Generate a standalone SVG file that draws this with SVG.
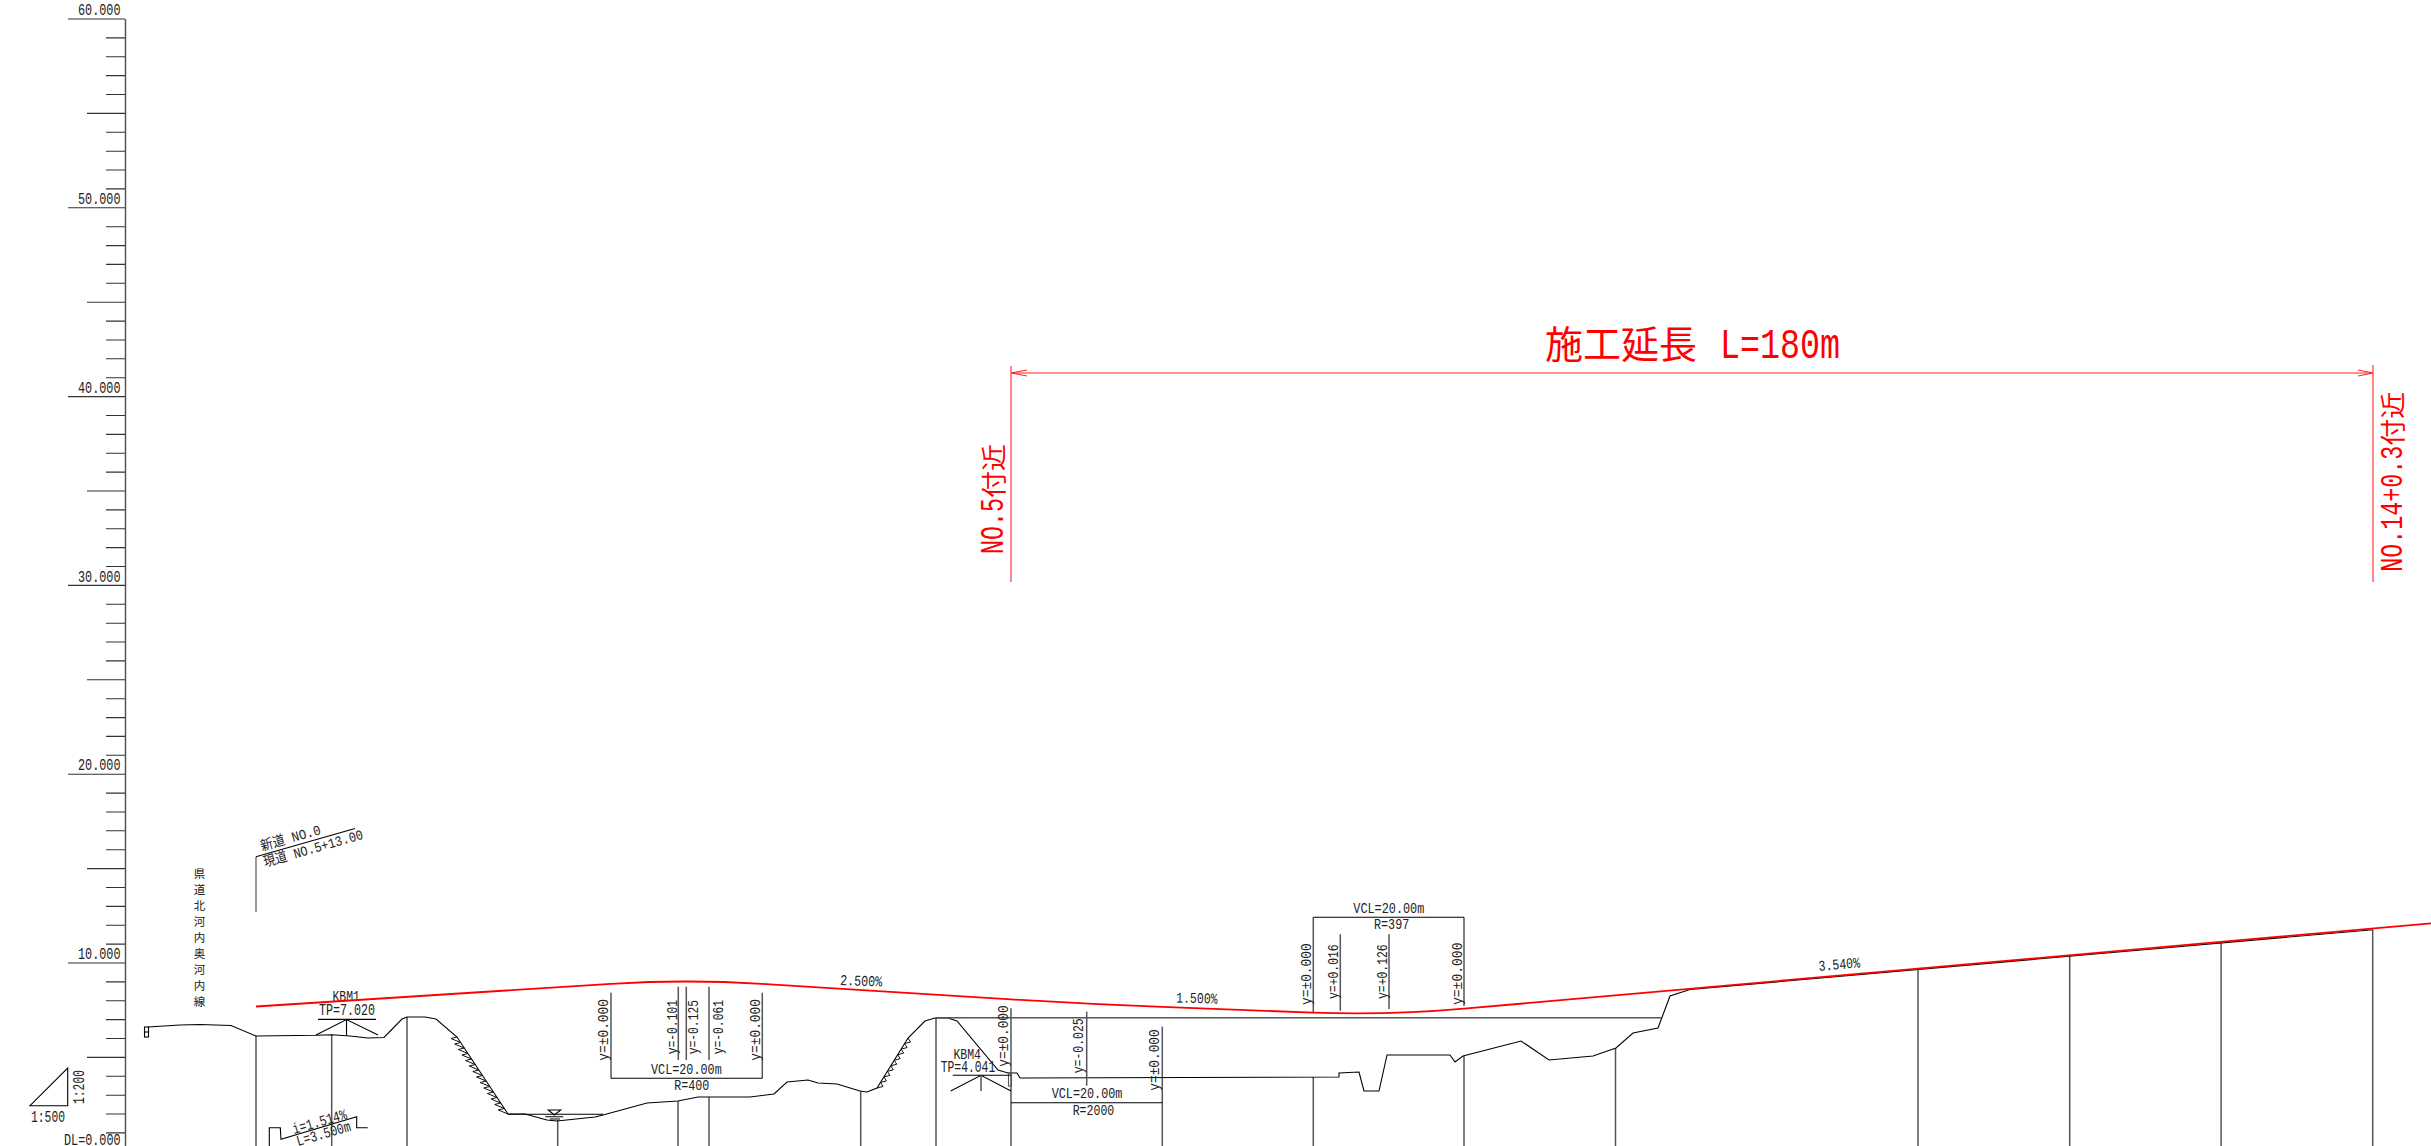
<svg xmlns="http://www.w3.org/2000/svg" width="2431" height="1146" viewBox="0 0 2431 1146">
<style>
.t{font-family:"Liberation Mono","Noto Sans CJK JP",monospace;fill:#222;font-size:15px}
.s{font-size:16px}
.j{font-family:"Noto Sans CJK JP",sans-serif;fill:#222;font-size:11.5px;letter-spacing:4.5px;writing-mode:vertical-rl}
.r{font-family:"Liberation Mono","Noto Sans CJK JP",monospace;fill:#f00}
.l{fill:none;stroke:#000;stroke-width:1.1}
.h{fill:none;stroke:#111;stroke-width:1}
.v{fill:none;stroke:#555;stroke-width:1.5}
</style>
<rect width="2431" height="1146" fill="#fff"/>
<g id="level-scale">
<path class="v" d="M125.5 19V1146"/>
<path class="l" style="stroke:#333" d="M68 19H125M106 37.9H125M106 56.8H125M106 75.6H125M106 94.5H125M87 113.4H125M106 132.3H125M106 151.2H125M106 170H125M106 188.9H125M68 207.8H125M106 226.7H125M106 245.6H125M106 264.4H125M106 283.3H125M87 302.2H125M106 321.1H125M106 340H125M106 358.8H125M106 377.7H125M68 396.6H125M106 415.5H125M106 434.4H125M106 453.2H125M106 472.1H125M87 491H125M106 509.9H125M106 528.8H125M106 547.6H125M106 566.5H125M68 585.4H125M106 604.3H125M106 623.2H125M106 642H125M106 660.9H125M87 679.8H125M106 698.7H125M106 717.6H125M106 736.4H125M106 755.3H125M68 774.2H125M106 793.1H125M106 812H125M106 830.8H125M106 849.7H125M87 868.6H125M106 887.5H125M106 906.4H125M106 925.2H125M106 944.1H125M68 963H125M106 981.9H125M106 1000.8H125M106 1019.6H125M106 1038.5H125M87 1057.4H125M106 1076.3H125M106 1095.2H125M106 1114H125M106 1132.9H125"/>
<text class="t s" x="78" y="15" textLength="42.5" lengthAdjust="spacingAndGlyphs">60.000</text>
<text class="t s" x="78" y="204" textLength="42.5" lengthAdjust="spacingAndGlyphs">50.000</text>
<text class="t s" x="78" y="393" textLength="42.5" lengthAdjust="spacingAndGlyphs">40.000</text>
<text class="t s" x="78" y="582" textLength="42.5" lengthAdjust="spacingAndGlyphs">30.000</text>
<text class="t s" x="78" y="770" textLength="42.5" lengthAdjust="spacingAndGlyphs">20.000</text>
<text class="t s" x="78" y="959" textLength="42.5" lengthAdjust="spacingAndGlyphs">10.000</text>
<text class="t s" x="64" y="1145" textLength="56.5" lengthAdjust="spacingAndGlyphs">DL=0.000</text>
<path class="l" d="M30 1105.7H67.7V1068Z"/>
<text class="t s" x="31" y="1122" textLength="34" lengthAdjust="spacingAndGlyphs">1:500</text>
<text class="t s" transform="translate(84 1104) rotate(-90)" textLength="34" lengthAdjust="spacingAndGlyphs">1:200</text>
</g>
<g id="road-name">
<text class="j" x="199.5" y="868">県道北河内奥河内線</text>
<path class="v" style="stroke-width:1.2" d="M256 912V856.7"/>
<path class="l" d="M256 856.7L355 828.5"/>
<text class="t" style="font-size:14px" transform="translate(262 851) rotate(-16)" textLength="62" lengthAdjust="spacingAndGlyphs">新道 NO.0</text>
<text class="t" style="font-size:14px" transform="translate(265 867) rotate(-16)" textLength="103" lengthAdjust="spacingAndGlyphs">現道 NO.5+13.00</text>
</g>
<g id="stations">
<path class="v" d="M256 1036V1146M331.7 1034.5V1146M407 1017V1146M557.7 1120V1146M678 1101V1146M709 1097V1146M860.7 1091V1146M936 1018V1146M1011 1008.3V1146M1162.3 1026.7V1146M1313.3 917.3V1013M1313.3 1077V1146M1464 917.3V1006M1464 1056V1146M1615.5 1048V1146M1918 969V1146M2069.7 956V1146M2221.1 943V1146M2372.7 930V1146"/>
</g>
<g id="ground">
<path class="l" d="M148 1027L180 1025L200 1024.5L231 1025.5L256 1036L316 1035.3L332 1034.7L350 1036L368 1038L384 1037.5L402 1019L407 1017L425 1017L436 1019L457 1037L508 1114L525 1114L547 1120L557 1121L595 1117L603 1115L647 1103L678 1101L698 1097L750 1097L774 1094L787 1082L808 1080L818 1083L837 1084L860 1091L867 1092L877 1088L908 1038L925 1021L935 1018L948 1018L957 1021L998 1070L1008 1073L1017 1073L1020 1078L1339 1077L1339 1073L1359 1072L1364 1091L1379 1091L1387 1055L1450 1055L1455 1062L1463 1056L1521 1041L1549 1060L1593 1056L1616 1048L1633 1033L1658 1028L1670 996L1690 989.5L2373 929.7"/>
<path class="l" d="M508 1114.3H603"/>
<path class="v" d="M936 1017.7H1661"/>
<path class="h" d="M457 1037l-6 1.5 9.64 4-6 1.5 9.64 4-6 1.5 9.64 4-6 1.5 9.64 4-6 1.5 9.64 4-6 1.5 9.64 4-6 1.5 9.64 4-6 1.5 9.64 4-6 1.5 9.64 4-6 1.5 9.64 4-6 1.5 9.64 4-6 1.5 9.64 4-6 1.5 9.64 4-6 1.5 9.64 4"/>
<path class="h" d="M877 1088l6-1.5-2.56-4.06 6-1.5-2.56-4.06 6-1.5-2.56-4.06 6-1.5-2.56-4.06 6-1.5-2.56-4.06 6-1.5-2.56-4.06 6-1.5-2.56-4.06 6-1.5-2.56-4.06 6-1.5-2.56-4.06"/>
<rect class="l" x="144.5" y="1027" width="4" height="10"/>
<path class="l" d="M144.5 1032H148.5"/>
<rect class="l" style="stroke:#555" x="1008.5" y="1073" width="3" height="13"/>
</g>
<g id="water-level">
<path class="l" d="M548.3 1110H560.7L554.3 1115ZM545.3 1116.7H563.3M550 1119H560"/>
</g>
<g id="benchmark-kbm1">
<text class="t" x="332.5" y="1001" textLength="27.5" lengthAdjust="spacingAndGlyphs">KBM1</text>
<text class="t s" x="319" y="1015" textLength="56" lengthAdjust="spacingAndGlyphs">TP=7.020</text>
<path class="l" d="M318 1019.4H376M316 1035L346.5 1019.5L378 1035M346.5 1019.5V1035.5"/>
</g>
<g id="benchmark-kbm4">
<text class="t" x="953.5" y="1059" textLength="27.5" lengthAdjust="spacingAndGlyphs">KBM4</text>
<text class="t s" x="940.7" y="1072" textLength="54.5" lengthAdjust="spacingAndGlyphs">TP=4.041</text>
<path class="l" d="M952.7 1075.3H1011M950.7 1091L981 1075.3L1011 1091"/>
<path class="v" d="M981 1075.3V1091"/>
</g>
<g id="culvert">
<path class="l" d="M269.3 1146V1127.7H280.3L281 1139.3L356.7 1116.7V1127.7H367.7"/>
<text class="t" transform="translate(294 1134) rotate(-16)" textLength="56" lengthAdjust="spacingAndGlyphs">i=1.514%</text>
<text class="t" transform="translate(298 1146) rotate(-16)" textLength="56" lengthAdjust="spacingAndGlyphs">L=3.500m</text>
</g>
<g id="vcl-400">
<path class="v" d="M611 992.7V1078.3M762.3 992.7V1078.3M678.3 986.7V1060M686.3 986.7V1060M709 986.7V1060"/>
<path class="l" d="M611 1078.3H762.3"/>
<text class="t" x="651" y="1074" textLength="70.7" lengthAdjust="spacingAndGlyphs">VCL=20.00m</text>
<text class="t" x="674.3" y="1090" textLength="35" lengthAdjust="spacingAndGlyphs">R=400</text>
<text class="t" transform="translate(608 1060.7) rotate(-90)" textLength="61.7" lengthAdjust="spacingAndGlyphs">y=±0.000</text>
<text class="t" transform="translate(676.5 1054.3) rotate(-90)" textLength="54.3" lengthAdjust="spacingAndGlyphs">y=-0.101</text>
<text class="t" transform="translate(698.3 1054.3) rotate(-90)" textLength="54.3" lengthAdjust="spacingAndGlyphs">y=-0.125</text>
<text class="t" transform="translate(722.5 1054.3) rotate(-90)" textLength="54.3" lengthAdjust="spacingAndGlyphs">y=-0.061</text>
<text class="t" transform="translate(760 1060.7) rotate(-90)" textLength="61.7" lengthAdjust="spacingAndGlyphs">y=±0.000</text>
</g>
<g id="vcl-2000">
<path class="v" d="M1086.7 1011.7V1085.7"/>
<path class="l" d="M1011 1102.7H1162.3"/>
<text class="t" x="1051.7" y="1098" textLength="70.7" lengthAdjust="spacingAndGlyphs">VCL=20.00m</text>
<text class="t" x="1072.7" y="1115" textLength="41.6" lengthAdjust="spacingAndGlyphs">R=2000</text>
<text class="t" transform="translate(1008 1066.7) rotate(-90)" textLength="61.4" lengthAdjust="spacingAndGlyphs">y=±0.000</text>
<text class="t" transform="translate(1083.3 1073.3) rotate(-90)" textLength="55" lengthAdjust="spacingAndGlyphs">y=-0.025</text>
<text class="t" transform="translate(1159.3 1090.7) rotate(-90)" textLength="61.4" lengthAdjust="spacingAndGlyphs">y=±0.000</text>
</g>
<g id="vcl-397">
<path class="v" d="M1340.3 934.3V1010.7M1389 934.3V1009"/>
<path class="l" d="M1313.3 917.3H1464"/>
<text class="t" x="1353.3" y="912.7" textLength="71" lengthAdjust="spacingAndGlyphs">VCL=20.00m</text>
<text class="t" x="1374" y="928.7" textLength="35.3" lengthAdjust="spacingAndGlyphs">R=397</text>
<text class="t" transform="translate(1310.7 1005) rotate(-90)" textLength="61.7" lengthAdjust="spacingAndGlyphs">y=±0.000</text>
<text class="t" transform="translate(1338 999) rotate(-90)" textLength="54.7" lengthAdjust="spacingAndGlyphs">y=+0.016</text>
<text class="t" transform="translate(1386.7 999) rotate(-90)" textLength="54.7" lengthAdjust="spacingAndGlyphs">y=+0.126</text>
<text class="t" transform="translate(1461.7 1005) rotate(-90)" textLength="62.5" lengthAdjust="spacingAndGlyphs">y=±0.000</text>
</g>
<g id="design-grade">
<path d="M256 1006.5L611 983.8Q686.5 979.2 762 983.8L1011 999.4Q1086.7 1004.1 1162 1006.9L1313 1012.6Q1389 1015.4 1464 1008.7L1918 968.6L2431 923.3" fill="none" stroke="#f00" stroke-width="1.8"/>
<text class="t" transform="translate(840 985) rotate(2)" textLength="42" lengthAdjust="spacingAndGlyphs">2.500%</text>
<text class="t" transform="translate(1176 1002.5) rotate(1.5)" textLength="41.5" lengthAdjust="spacingAndGlyphs">1.500%</text>
<text class="t" transform="translate(1819 971) rotate(-5)" textLength="41.5" lengthAdjust="spacingAndGlyphs">3.540%</text>
</g>
<g id="construction-extent">
<path d="M1011 373H2373M1027 370L1011 373L1027 376M2358 370L2373 373L2358 376" fill="none" stroke="#f22" stroke-width="1"/>
<path d="M1011 366V582M2373 365V582" fill="none" stroke="#f55" stroke-width="1.4"/>
<text class="r" y="358" style="font-size:38px"><tspan x="1545" textLength="152" lengthAdjust="spacingAndGlyphs">施工延長</tspan> <tspan x="1720" style="font-size:42px" textLength="120" lengthAdjust="spacingAndGlyphs">L=180m</tspan></text>
<text class="r" transform="translate(1003 554) rotate(-90)" style="font-size:25px"><tspan style="font-size:33px" textLength="56" lengthAdjust="spacingAndGlyphs">NO.5</tspan><tspan textLength="54" lengthAdjust="spacingAndGlyphs">付近</tspan></text>
<text class="r" transform="translate(2401.7 571.7) rotate(-90)" style="font-size:25px"><tspan style="font-size:31px" textLength="126" lengthAdjust="spacingAndGlyphs">NO.14+0.3</tspan><tspan textLength="54" lengthAdjust="spacingAndGlyphs">付近</tspan></text>
</g>
</svg>
